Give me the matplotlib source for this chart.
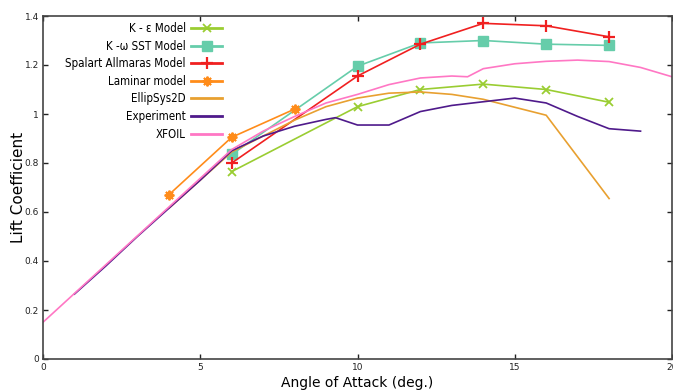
import matplotlib
matplotlib.use("Agg")
import matplotlib.pyplot as plt

# angle d'attaque (deg.) et coefficient de portance
ke_x = [6, 10, 12, 14, 16, 18]
ke_y = [0.765, 1.03, 1.10, 1.122, 1.10, 1.048]

kw_x = [6, 10, 12, 14, 16, 18]
kw_y = [0.835, 1.195, 1.29, 1.30, 1.285, 1.28]

sa_x = [6, 10, 12, 14, 16, 18]
sa_y = [0.80, 1.155, 1.285, 1.37, 1.36, 1.315]

lam_x = [4, 6, 8]
lam_y = [0.67, 0.905, 1.02]

ell_x = [4, 6, 8, 9, 10, 11, 12, 13, 14, 16, 18]
ell_y = [0.615, 0.845, 0.975, 1.03, 1.065, 1.085, 1.09, 1.08, 1.06, 0.995, 0.655]

exp_x = [1, 2, 3, 4, 5, 6, 7, 8, 9, 9.3, 10, 11, 12, 13, 14, 15, 16, 17, 18, 19]
exp_y = [0.265, 0.38, 0.5, 0.615, 0.73, 0.85, 0.91, 0.95, 0.978, 0.985, 0.955,
         0.955, 1.01, 1.035, 1.05, 1.065, 1.045, 0.99, 0.94, 0.93]

xf_x = [0, 2, 4, 6, 7, 8, 9, 10, 11, 12, 13, 13.5, 14, 15, 16, 17, 18, 19, 20]
xf_y = [0.15, 0.385, 0.62, 0.855, 0.93, 0.99, 1.045, 1.08, 1.12, 1.147, 1.155,
        1.152, 1.185, 1.205, 1.215, 1.22, 1.214, 1.19, 1.152]

x_ticks = [0, 5, 10, 15, 20]
y_ticks = [0, 0.2, 0.4, 0.6, 0.8, 1.0, 1.2, 1.4]
y_labels = ["0", "0.2", "0.4", "0.6", "0.8", "1", "1.2", "1.4"]

plt.rcParams['font.family'] = ['DejaVu Sans']

fig = plt.figure(figsize=(6.73, 3.9), dpi=100)
ax = fig.add_axes([43/673, 1-359/390, 629/673, 343/390])

lw = 1.2
ax.plot(ke_x, ke_y, color="#9acd32", lw=lw, marker="x", ms=6, mew=1.3, label="K - ε Model")
ax.plot(kw_x, kw_y, color="#66cdaa", lw=lw, marker="s", ms=7, label="K -ω SST Model")
ax.plot(sa_x, sa_y, color="#f02020", lw=lw, marker="+", ms=8, mew=1.6, label="Spalart Allmaras Model")
ax.plot(lam_x, lam_y, color="#ff8c1a", lw=lw, marker=(8, 2, 0), ms=7, mew=1.4, label="Laminar model")
ax.plot(ell_x, ell_y, color="#e8a030", lw=lw, label="EllipSys2D")
ax.plot(exp_x, exp_y, color="#4f1a8b", lw=lw, label="Experiment")
ax.plot(xf_x, xf_y, color="#ff77c4", lw=lw, label="XFOIL")

ax.set_xlim(0, 20)
ax.set_ylim(0, 1.4)
ax.set_xticks(x_ticks)
ax.set_yticks(y_ticks)
ax.set_yticklabels(y_labels)
ax.tick_params(direction="in", length=3.5, width=1, labelsize=6.5, colors="#222222",
               top=True, right=True, pad=3)
for s in ax.spines.values():
    s.set_color("#444444")
    s.set_linewidth(1.2)

ax.set_xlabel("Angle of Attack (deg.)", fontsize=10, labelpad=3)
ax.set_ylabel("Lift Coefficient", fontsize=11, labelpad=-1)

leg = ax.legend(loc="upper right", bbox_to_anchor=(222/673, 1-22/390),
                bbox_transform=fig.transFigure, frameon=False, markerfirst=False,
                prop={'family': 'DejaVu Sans', 'stretch': 'condensed', 'size': 8.3},
                handlelength=2.65, handletextpad=0.5, labelspacing=0.4,
                borderpad=0, borderaxespad=0, numpoints=1)
for l in leg.get_lines():
    l.set_linewidth(2)

fig.savefig("out.png", dpi=100)
